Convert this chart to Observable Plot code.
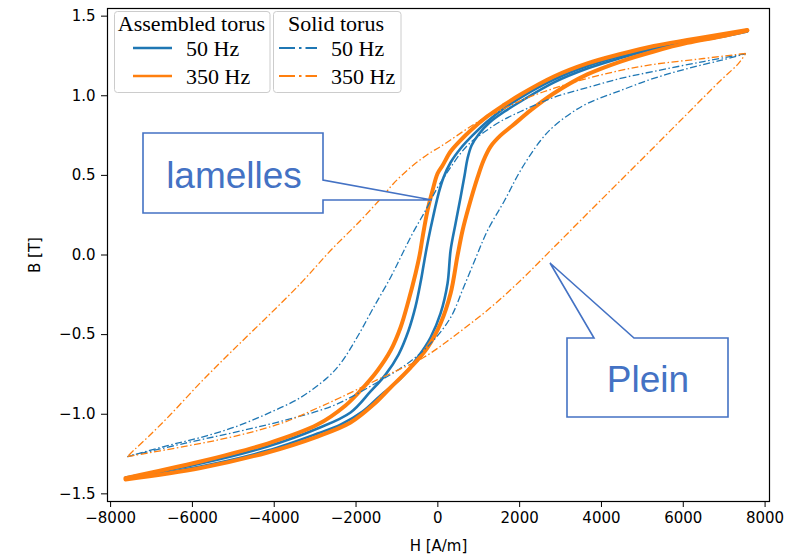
<!DOCTYPE html>
<html>
<head>
<meta charset="utf-8">
<script src="https://cdn.jsdelivr.net/npm/d3@7"></script>
<script src="https://cdn.jsdelivr.net/npm/@observablehq/plot@0.6"></script>
<style>
  html, body { margin: 0; padding: 0; background: white; }
  #wrap { position: relative; width: 810px; height: 558px; }
  #wrap svg.overlay { position: absolute; left: 0; top: 0; pointer-events: none; }
</style>
</head>
<body>
<div id="wrap"></div>
<script>
// ---- Data: [H (A/m), B (T)] ----
const xTicks = [-8000, -6000, -4000, -2000, 0, 2000, 4000, 6000, 8000];
const yTicks = [-1.5, -1.0, -0.5, 0.0, 0.5, 1.0, 1.5];

// Assembled torus, 50 Hz
const assembled50Down = [[7565,1.407],[6912,1.376],[6098,1.341],[5281,1.303],[4467,1.250],[3653,1.187],[2836,1.102],[2022,0.989],[1614,0.920],[1208,0.839],[848,0.751],[555,0.669],[311,0.581],[139,0.487],[17,0.386],[-81,0.280],[-178,0.166],[-276,0.041],[-350,-0.066],[-423,-0.173],[-545,-0.323],[-716,-0.474],[-961,-0.625],[-1279,-0.751],[-1645,-0.857],[-2134,-0.989],[-2941,-1.090],[-4164,-1.203],[-5802,-1.310],[-7636,-1.398]];
const assembled50Up = [[-7636,-1.407],[-5802,-1.328],[-4164,-1.228],[-2941,-1.121],[-2379,-1.065],[-1841,-0.983],[-1401,-0.882],[-912,-0.776],[-496,-0.644],[-178,-0.518],[66,-0.367],[237,-0.179],[311,0.028],[433,0.198],[555,0.361],[653,0.499],[726,0.606],[824,0.688],[995,0.757],[1264,0.832],[1631,0.901],[2022,0.964],[2829,1.083],[3653,1.171],[4467,1.237],[5281,1.294],[6098,1.335],[6912,1.369],[7565,1.404]];

// Assembled torus, 350 Hz
const assembled350Down = [[7565,1.413],[6912,1.385],[6098,1.350],[5281,1.313],[4467,1.262],[3653,1.203],[2836,1.121],[2022,1.008],[1614,0.942],[1208,0.870],[800,0.782],[506,0.707],[311,0.650],[115,0.562],[-7,0.512],[-130,0.405],[-252,0.280],[-374,0.110],[-447,-0.003],[-545,-0.116],[-716,-0.286],[-912,-0.455],[-1156,-0.600],[-1474,-0.725],[-1890,-0.851],[-2257,-0.945],[-2941,-1.065],[-4164,-1.184],[-5802,-1.297],[-7636,-1.401]];
const assembled350Up = [[-7636,-1.410],[-5802,-1.338],[-4164,-1.240],[-2941,-1.140],[-2134,-1.052],[-1572,-0.939],[-1156,-0.832],[-667,-0.707],[-252,-0.581],[66,-0.430],[311,-0.242],[482,-0.003],[604,0.154],[751,0.298],[971,0.487],[1117,0.594],[1289,0.681],[1533,0.751],[1826,0.813],[2267,0.908],[2829,1.014],[3653,1.134],[4467,1.215],[5281,1.278],[6098,1.332],[6912,1.372],[7565,1.410]];

// Solid torus, 50 Hz
const solid50Down = [[7523,1.264],[6496,1.215],[5274,1.153],[4467,1.109],[3660,1.052],[2829,0.989],[2022,0.901],[1533,0.839],[1117,0.769],[800,0.707],[555,0.638],[262,0.531],[-7,0.424],[-301,0.280],[-619,0.135],[-888,-0.003],[-1156,-0.141],[-1572,-0.330],[-1963,-0.512],[-2379,-0.681],[-2697,-0.769],[-3357,-0.895],[-4164,-0.996],[-4995,-1.083],[-5802,-1.146],[-6609,-1.197],[-7587,-1.266]];
const solid50Up = [[-7587,-1.266],[-6218,-1.184],[-4995,-1.115],[-3773,-1.040],[-2550,-0.945],[-1572,-0.813],[-741,-0.681],[-178,-0.556],[311,-0.393],[628,-0.204],[922,-0.022],[1215,0.154],[1631,0.342],[2022,0.531],[2511,0.719],[2829,0.807],[3245,0.889],[3660,0.952],[4467,1.033],[5274,1.109],[6105,1.171],[6912,1.222],[7523,1.264]];

// Solid torus, 350 Hz
const solid350Down = [[7523,1.266],[6496,1.234],[5274,1.197],[4467,1.159],[3660,1.109],[2829,1.046],[2022,0.970],[1533,0.908],[1117,0.857],[800,0.807],[433,0.744],[66,0.681],[-252,0.631],[-667,0.550],[-1083,0.449],[-1328,0.374],[-1890,0.217],[-2623,0.028],[-3357,-0.179],[-4262,-0.411],[-5069,-0.612],[-5802,-0.801],[-6535,-1.002],[-7073,-1.140],[-7440,-1.228],[-7587,-1.266]];
const solid350Up = [[-7587,-1.266],[-6218,-1.203],[-4995,-1.140],[-3773,-1.052],[-2868,-0.952],[-2379,-0.895],[-1719,-0.813],[-1156,-0.744],[-350,-0.644],[482,-0.493],[1289,-0.330],[2022,-0.160],[2756,0.028],[3489,0.217],[4345,0.437],[5200,0.656],[6105,0.889],[6912,1.096],[7352,1.203],[7523,1.264]];

const blue = "#1f77b4", orange = "#ff7f0e";
const dashDot = "7,2.5,1.5,2.5";
const lineOpts = (color, w, dash) => ({x: d => d[0], y: d => d[1], stroke: color, strokeWidth: w, strokeDasharray: dash, curve: "catmull-rom", strokeLinejoin: "round", strokeLinecap: dash ? "butt" : "round"});

const chart = Plot.plot({
  width: 810,
  height: 558,
  marginLeft: 107,
  marginRight: 41,
  marginTop: 8,
  marginBottom: 57,
  x: {domain: [-8076, 8108]},
  y: {domain: [-1.548, 1.548]},
  style: {fontFamily: "DejaVu Sans", fontSize: "15px", color: "#000", background: "white"},
  marks: [
    Plot.line(assembled50Down, lineOpts(blue, 2.6)),
    Plot.line(assembled50Up, lineOpts(blue, 2.6)),
    Plot.line(assembled350Down, lineOpts(orange, 4)),
    Plot.line(assembled350Up, lineOpts(orange, 4)),
    Plot.line(solid50Down, lineOpts(blue, 1.3, dashDot)),
    Plot.line(solid50Up, lineOpts(blue, 1.3, dashDot)),
    Plot.line(solid350Down, lineOpts(orange, 1.3, dashDot)),
    Plot.line(solid350Up, lineOpts(orange, 1.3, dashDot)),
    Plot.frame({stroke: "#000", strokeWidth: 1.2}),
    Plot.axisX({ticks: xTicks, tickSize: 6, tickPadding: 5, tickFormat: d3.format("d"), label: null}),
    Plot.axisY({ticks: yTicks, tickSize: 6, tickPadding: 6, tickFormat: d3.format(".1f"), label: null}),
    Plot.text(["H [A/m]"], {text: d => d, frameAnchor: "bottom", dy: 45, textAnchor: "middle", lineAnchor: "middle", fontSize: 15}),
    Plot.text(["B [T]"], {text: d => d, frameAnchor: "left", dx: -72, rotate: -90, textAnchor: "middle", lineAnchor: "middle", fontSize: 15})
  ]
});

const wrap = document.getElementById("wrap");
wrap.appendChild(chart);

const ns = "http://www.w3.org/2000/svg";
const overlay = document.createElementNS(ns, "svg");
overlay.setAttribute("class", "overlay");
overlay.setAttribute("width", 810);
overlay.setAttribute("height", 558);
overlay.innerHTML = `
  <g font-family="Liberation Serif, Times New Roman, serif" font-size="22" fill="#000">
    <rect x="114.5" y="11.5" width="155.5" height="81" rx="3" fill="white" fill-opacity="0.85" stroke="#cccccc" stroke-width="1"/>
    <text x="191.5" y="31" text-anchor="middle">Assembled torus</text>
    <line x1="133" x2="172" y1="48" y2="48" stroke="${blue}" stroke-width="2.6"/>
    <text x="186" y="56">50 Hz</text>
    <line x1="133" x2="172" y1="76" y2="76" stroke="${orange}" stroke-width="2.6"/>
    <text x="186" y="83.5">350 Hz</text>
    <rect x="273.5" y="11.5" width="127.5" height="81" rx="3" fill="white" fill-opacity="0.85" stroke="#cccccc" stroke-width="1"/>
    <text x="336" y="31" text-anchor="middle">Solid torus</text>
    <line x1="279" x2="317" y1="48" y2="48" stroke="${blue}" stroke-width="2" stroke-dasharray="16,4,2.5,4"/>
    <text x="331" y="56">50 Hz</text>
    <line x1="279" x2="317" y1="76" y2="76" stroke="${orange}" stroke-width="2" stroke-dasharray="16,4,2.5,4"/>
    <text x="331" y="83.5">350 Hz</text>
  </g>
  <g stroke="#4472c4" stroke-width="1.6" fill="white" stroke-linejoin="miter">
    <path d="M143,133 H323 V180 L432,200 L323,200 V213 H143 Z"/>
    <path d="M567,338 H594 L550,263 L634,338 H728 V417 H567 Z"/>
  </g>
  <g font-family="Liberation Sans, Arial, sans-serif" font-size="37" fill="#4472c4" text-anchor="middle">
    <text x="234" y="188">lamelles</text>
    <text x="648" y="392">Plein</text>
  </g>
`;
wrap.appendChild(overlay);
</script>
</body>
</html>
